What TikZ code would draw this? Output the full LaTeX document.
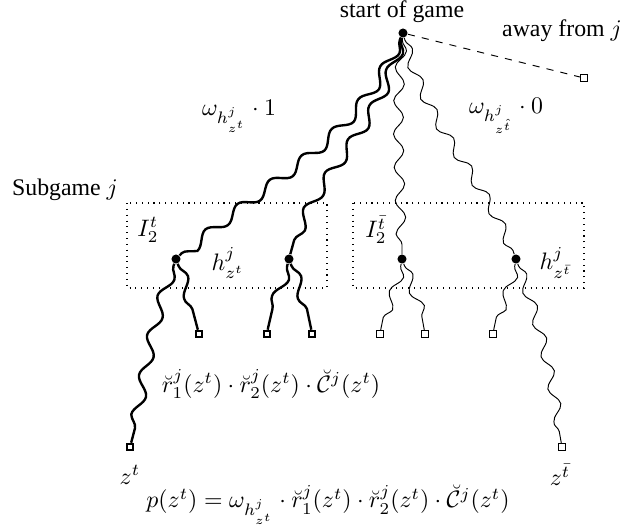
\documentclass[tikz,border=0pt]{standalone}
\usepackage[no-math]{fontspec}
\setmainfont{Liberation Serif}
\usetikzlibrary{decorations.pathmorphing}

\tikzset{
    hist/.style={circle, fill, inner sep=0, minimum size=3.8pt},
    term/.style={draw, rectangle, inner sep=0, minimum size=2.7pt, line width=0.9pt},
    termthin/.style={draw, rectangle, inner sep=0, minimum size=3pt, line width=0.4pt},
    thickmove/.style={line width=1pt, decorate, decoration={snake, segment length=17pt, amplitude=2.3pt, pre length=1pt, post length=1pt}},
    thinmove/.style={line width=0.4pt, decorate, decoration={snake, segment length=14pt, amplitude=2.1pt, pre length=1pt, post length=1pt}},
    infoset/.style={draw, dotted, line width=0.45pt}
}

\begin{document}
\begin{tikzpicture}[x=0.42pt, y=-0.42pt]
    \useasboundingbox (0,0) rectangle (644,525);

    % root and move away from the subgame
    \node[hist] (root) at (403,33) {};
    \node (rootlbl) at (402,12) {start of game};
    \node[termthin] (away) at (584,78) {};
    \node (awaylbl) at (562,31) {away from $j$};
    \draw[dashed, line width=0.4pt] (root) -- (away);

    % information sets
    \draw[infoset] (127,203) rectangle (327,288);
    \draw[infoset] (353,203) rectangle (584,288);
    \node (sub) at (65,190) {Subgame $j$};
    \node (I1) at (148,230) {$I_2^{t}$};
    \node (I2) at (376,230) {$I_2^{\bar t}$};

    % histories
    \node[hist] (h1) at (176,259) {};
    \node[hist] (h2) at (289,259) {};
    \node[hist] (h3) at (402,259) {};
    \node[hist] (h4) at (516,259) {};
    \node (hl1) at (228,263) {$h^j_{z^t}$};
    \node (hl2) at (556,263) {$h^j_{z^{\bar t}}$};

    % terminal histories
    \node[term] (l1) at (199,334) {};
    \node[term] (l2) at (267,334) {};
    \node[term] (l3) at (312,334) {};
    \node[termthin] (l4) at (380,334) {};
    \node[termthin] (l5) at (425,334) {};
    \node[termthin] (l6) at (493,334) {};
    \node[term] (zt) at (130,447) {};
    \node[termthin] (ztb) at (562,447) {};
    \node (ztlbl) at (130,475) {$z^t$};
    \node (ztblbl) at (560,475) {$z^{\bar t}$};

    % chance moves into the subgame
    \draw[thickmove] (root) to[out=245, in=45] (h1);
    \draw[thickmove] (root) to[out=255, in=75] (h2);
    \draw[thinmove] (root) to[out=265, in=90] (h3);
    \draw[thinmove] (root) to[out=285, in=110] (h4);

    % moves inside the subgame
    \draw[thickmove] (h1) to[out=250, in=75] (zt);
    \draw[thickmove] (h1) to[out=290, in=105] (l1);
    \draw[thickmove] (h2) to[out=255, in=80] (l2);
    \draw[thickmove] (h2) to[out=290, in=100] (l3);
    \draw[thinmove] (h3) to[out=260, in=80] (l4);
    \draw[thinmove] (h3) to[out=290, in=100] (l5);
    \draw[thinmove] (h4) to[out=260, in=80] (l6);
    \draw[thinmove] (h4) to[out=290, in=100] (ztb);

    % reach probabilities
    \node (w1) at (239,116) {$\omega_{h^j_{z^t}} \cdot 1$};
    \node (w0) at (506,116) {$\omega_{h^j_{z^{\hat t}}} \cdot 0$};
    \node (rr) at (271,384) {$\breve{r}^j_1(z^t) \cdot \breve{r}^j_2(z^t) \cdot \breve{\mathcal{C}}^j(z^t)$};
    \node (pz) at (328,505) {$p(z^t) = \omega_{h^j_{z^t}} \cdot \breve{r}^j_1(z^t) \cdot \breve{r}^j_2(z^t) \cdot \breve{\mathcal{C}}^j(z^t)$};
\end{tikzpicture}
\end{document}
